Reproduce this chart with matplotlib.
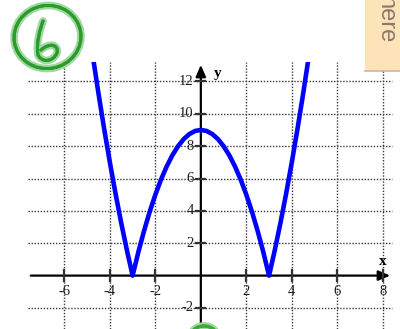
import matplotlib
matplotlib.use("Agg")
import matplotlib.pyplot as plt
import matplotlib.patheffects as pe
from matplotlib.patches import Ellipse, Rectangle, PathPatch
from matplotlib.path import Path

# y = |9 - x^2| sampled every 0.25
xs = [-4.75, -4.5, -4.25, -4.0, -3.75, -3.5, -3.25, -3.0, -2.75, -2.5,
      -2.25, -2.0, -1.75, -1.5, -1.25, -1.0, -0.75, -0.5, -0.25, 0.0,
      0.25, 0.5, 0.75, 1.0, 1.25, 1.5, 1.75, 2.0, 2.25, 2.5,
      2.75, 3.0, 3.25, 3.5, 3.75, 4.0, 4.25, 4.5, 4.75]
ys = [13.56, 11.25, 9.06, 7.0, 5.06, 3.25, 1.56, 0.0, 1.44, 2.75,
      3.94, 5.0, 5.94, 6.75, 7.44, 8.0, 8.44, 8.75, 8.94, 9.0,
      8.94, 8.75, 8.44, 8.0, 7.44, 6.75, 5.94, 5.0, 3.94, 2.75,
      1.44, 0.0, 1.56, 3.25, 5.06, 7.0, 9.06, 11.25, 13.56]

x_ticks = [-6, -4, -2, 2, 4, 6, 8]
y_ticks = [-2, 2, 4, 6, 8, 10, 12]
X_LIM = (-7.6, 8.45)
Y_LIM = (-3.3, 13.2)

W, H = 400, 329
fig = plt.figure(figsize=(W / 100, H / 100), dpi=100)
fig.patch.set_facecolor("white")

ax = fig.add_axes([28 / W, 0, 365 / W, 267 / H])
ax.set_xlim(*X_LIM)
ax.set_ylim(*Y_LIM)
ax.axis("off")

grid_kw = dict(color="#3a3a3a", lw=1.0, linestyle=(0, (1, 1.2)), zorder=1)
for gx in x_ticks:
    ax.plot([gx, gx], [Y_LIM[0], Y_LIM[1]], **grid_kw)
for gy in y_ticks:
    ax.plot([X_LIM[0], X_LIM[1] - 0.05], [gy, gy], **grid_kw)

# axes with arrow heads
arrow_kw = dict(arrowstyle="-|>,head_length=0.7,head_width=0.3", color="black", lw=1.6)
ax.annotate("", xy=(X_LIM[1], 0), xytext=(X_LIM[0], 0),
            arrowprops=arrow_kw, annotation_clip=False, zorder=3)
ax.annotate("", xy=(0, Y_LIM[1]), xytext=(0, Y_LIM[0]),
            arrowprops=arrow_kw, annotation_clip=False, zorder=3)

lab_kw = dict(family="Liberation Serif", fontsize=10.5, color="#1c1c2c",
              textcoords="offset pixels", annotation_clip=False)
for tx in x_ticks:
    ax.plot([tx, tx], [-0.35, 0.35], color="#333333", lw=1.6, zorder=3)
    ax.annotate(str(tx).replace("-", "\u2010") if tx < 0 else str(tx),
                xy=(tx, 0), xytext=(0, -9), ha="center", va="top", **lab_kw)
for ty in y_ticks:
    ax.plot([-0.2, 0.2], [ty, ty], color="#333333", lw=1.6, zorder=3)
    ax.annotate(str(ty).replace("-", "\u2010") if ty < 0 else str(ty),
                xy=(0, ty), xytext=(-7, 0), ha="right", va="center", **lab_kw)

ax.annotate("y", xy=(0, Y_LIM[1]), xytext=(17, -12), ha="center", va="center",
            family="Liberation Serif", fontsize=11, fontweight="bold",
            textcoords="offset pixels", annotation_clip=False)
ax.annotate("x", xy=(8, 0), xytext=(0, 14), ha="center", va="center",
            family="Liberation Serif", fontsize=11, fontweight="bold",
            textcoords="offset pixels", annotation_clip=False)

ax.plot(xs, ys, color="#0000ff", lw=3.3, zorder=4, solid_capstyle="butt")

# pixel-space overlay for the handwritten marks and the sticky note
ov = fig.add_axes([0, 0, 1, 1])
ov.set_xlim(0, W)
ov.set_ylim(H, 0)
ov.axis("off")
ov.patch.set_alpha(0)

green = "#2e9a2e"
glow = [pe.withStroke(linewidth=5.5, foreground="#9fd89f"), pe.Normal()]

ring = Ellipse((47.5, 37), 67, 63, angle=-10, fill=False, ec=green, lw=2.2)
ring.set_path_effects(glow)
ov.add_patch(ring)

six = Path([(43, 21), (40, 30), (36, 42), (38, 55),
            (42, 63), (53, 62), (57, 53),
            (59, 45), (50, 42), (41, 50)],
           [Path.MOVETO, Path.CURVE4, Path.CURVE4, Path.CURVE4,
            Path.CURVE4, Path.CURVE4, Path.CURVE4,
            Path.CURVE4, Path.CURVE4, Path.CURVE4])
six_patch = PathPatch(six, fill=False, ec=green, lw=2.2, capstyle="round")
six_patch.set_path_effects(glow)
ov.add_patch(six_patch)

blob = Ellipse((204, 336), 26, 20, fill=False, ec="#3aaa3a", lw=2.2)
blob.set_path_effects(glow)
ov.add_patch(blob)

ov.add_patch(Rectangle((365, -1), 36, 72, fc="#fde4b8", ec="none", zorder=5))
ov.plot([365, 400], [71, 71], color="#c9b99d", lw=1.2, zorder=6)
ov.text(385, 20, "here", rotation=-90, ha="center", va="center",
        family="Liberation Sans", fontsize=17, color="#877a6e", zorder=7)

fig.savefig("out.png", dpi=100)
